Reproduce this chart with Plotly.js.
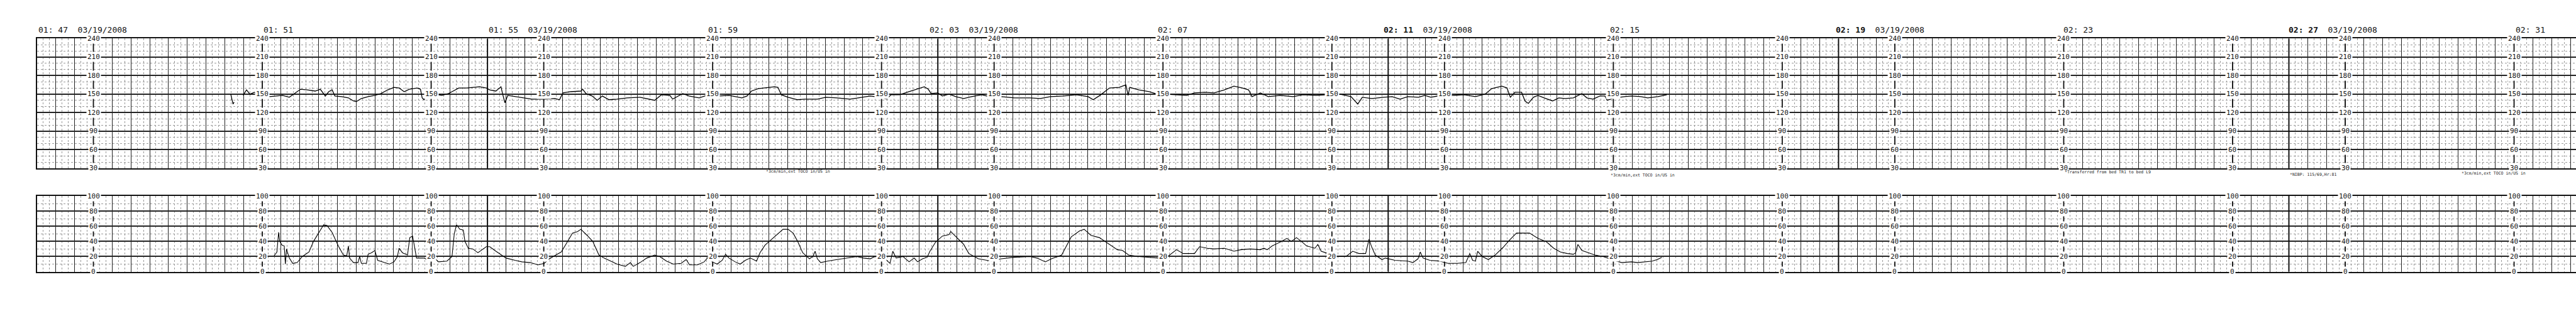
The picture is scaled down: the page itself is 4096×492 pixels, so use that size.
<!DOCTYPE html>
<html>
<head>
<meta charset="utf-8">
<script src="https://cdn.plot.ly/plotly-3.0.1.min.js"></script>
<style>html,body{margin:0;padding:0;background:#fff;}#chart{width:4096px;height:492px;}</style>
</head>
<body>
<div id="chart"></div>
<script>
// ---- data (x = minutes after 01:47) ----
const fhrMin = [3.44,3.46,3.48,3.50,3.58,
3.66,3.72,3.78,3.86,3.95,4.04,4.13,4.24,4.36,4.48,4.57,4.68,4.80,4.94,5.03,5.09,5.12,5.18,5.24,5.29,5.41,5.53,5.62,5.67,5.76,5.88,6.00,6.11,6.23,6.34,6.43,6.52,6.61,6.75,6.81,6.84,6.87,6.93,7.05,7.19,7.31,7.37,7.49,7.63,7.74,7.86,7.98,8.04,8.15,8.24,8.27,8.31,8.36,8.49,
8.61,8.79,9.01,9.20,9.28,9.34,9.48,9.66,9.69,9.75,9.86,9.95,10.04,10.16,10.30,10.48,10.71,10.88,10.97,11.09,11.24,11.29,11.47,11.58,11.76,11.93,12.11,12.29,12.52,12.61,12.69,12.81,12.99,13.10,13.16,13.22,13.34,13.51,13.63,13.86,14.01,14.21,14.44,14.68,14.80,14.97,15.09,15.17,15.32,15.49,15.67,15.76,15.83,
15.88,16.00,16.08,16.20,16.32,16.46,16.60,16.78,16.96,17.13,17.36,17.64,17.82,18.00,18.23,18.46,18.67,18.76,18.88,19.05,19.22,19.34,19.38,19.41,19.57,19.75,19.90,20.03,20.22,20.42,20.56,20.74,20.91,21.09,21.26,21.41,21.52,21.58,21.73,21.87,22.08,22.31,22.49,22.72,22.92,23.14,23.34,23.46,23.54,23.71,23.92,
24.07,24.21,24.35,24.54,24.65,24.76,24.94,25.17,25.35,25.55,25.72,25.84,26.02,26.11,26.17,26.25,26.37,26.43,26.49,26.58,26.66,26.80,26.92,27.03,27.14,27.29,27.44,27.53,27.64,27.76,27.85,27.89,28.02,28.20,28.32,28.49,28.61,28.79,28.95];
const fhrBpm = [150,140,134,137,null,
148,157,150,153,148,150,146,147,148,145,151,158,157,155,158,150,147,154,157,147,146,144,139,138,143,146,148,151,157,161,160,154,158,160,158,144,141,148,150,148,151,154,160,160,161,162,160,157,155,162,150,136,148,146,
144,142,142,143,141,152,154,155,158,151,147,140,147,141,142,144,145,142,140,149,148,142,151,147,144,149,147,148,144,147,155,159,161,162,161,149,145,141,142,142,145,144,142,145,147,145,142,149,149,154,159,162,158,
151,152,147,150,146,143,146,149,145,146,144,144,143,146,147,149,146,141,148,160,161,165,148,161,157,154,150,150,149,148,152,153,152,157,163,160,157,146,152,146,148,146,149,148,149,150,146,134,145,143,145,
146,142,146,145,148,145,148,148,149,146,150,159,163,160,145,153,153,139,135,145,148,143,139,144,143,144,151,144,142,147,147,140,144,146,147,146,144,146,149];

const tocoMin = [4.21,4.26,4.29,4.31,4.35,4.39,4.41,4.43,4.48,4.54,4.62,4.71,4.83,4.91,5.00,5.09,5.15,5.24,5.35,5.44,5.50,5.53,5.55,5.62,5.70,5.73,5.76,5.85,5.88,5.94,6.00,6.05,6.17,6.26,6.34,6.40,6.43,6.49,6.58,6.62,6.67,6.71,6.74,6.87,6.96,7.03,7.13,7.28,7.37,7.41,7.45,7.51,7.57,7.60,7.66,7.74,7.83,7.98,8.04,8.15,8.33,8.49,
8.61,8.76,8.90,9.01,9.08,9.19,9.31,9.40,9.51,9.60,9.66,9.77,9.87,9.98,10.07,10.19,10.30,10.45,10.54,10.59,10.71,10.83,10.97,11.06,11.18,11.30,11.44,11.53,11.59,11.73,11.85,11.93,11.99,12.08,12.17,12.23,12.29,12.40,12.49,12.58,12.67,12.78,12.84,12.93,13.04,13.16,13.25,13.34,13.43,13.51,13.60,13.72,13.78,13.82,13.86,13.92,14.04,14.21,14.39,14.56,14.68,14.80,14.88,14.97,15.06,15.15,15.20,15.26,15.38,15.49,15.58,15.64,15.73,15.81,
15.86,15.96,16.08,16.20,16.23,16.31,16.40,16.46,16.55,16.72,16.95,17.13,17.36,17.64,17.76,17.91,18.02,18.20,18.37,18.52,18.60,18.72,18.87,19.05,19.19,19.28,19.39,19.57,19.75,19.92,20.10,20.24,20.36,20.56,20.65,20.79,20.91,21.09,21.26,21.38,21.55,21.73,21.79,21.85,21.94,22.08,22.20,22.28,22.37,22.46,22.55,22.70,22.75,22.81,22.93,23.02,23.07,23.25,23.37,23.48,23.60,23.66,23.70,23.77,23.89,
23.95,24.12,24.35,24.44,24.53,24.57,24.62,24.74,24.91,25.06,25.23,25.38,25.45,25.50,25.55,25.59,25.67,25.78,25.90,26.04,26.16,26.28,26.40,26.51,26.66,26.80,26.85,26.94,27.06,27.18,27.29,27.33,27.37,27.44,27.56,27.67,27.82,27.96,28.05,28.15,28.32,28.43,28.54,28.69,28.78,28.86];
const tocoVal = [21,26,52,40,35,34,10,30,18,11,12,20,26,40,51,62,61,52,34,22,21,34,18,12,12,20,11,11,23,25,28,15,12,10,13,20,31,25,22,45,47,31,18,18,15,20,13,14,20,50,62,56,55,40,31,30,25,33,33,27,18,15,
13,12,9,11,16,21,26,37,51,53,56,48,40,22,18,14,10,7,12,7,12,18,22,20,14,10,11,16,9,9,13,20,13,10,15,23,18,13,10,15,18,14,25,35,42,50,56,56,51,40,25,17,20,27,17,12,14,16,18,20,18,17,20,20,17,11,27,18,20,13,18,13,17,19,
27,39,47,49,53,47,40,36,24,17,14,17,19,20,18,13,17,22,46,54,56,48,45,36,29,28,22,20,19,18,21,29,24,24,33,31,30,31,27,29,30,29,31,29,34,39,44,40,45,40,34,31,36,27,24,22,20,20,27,24,24,43,34,22,16,
18,15,14,12,17,26,18,15,14,11,11,12,24,15,14,27,20,16,22,32,42,51,51,51,44,40,37,31,26,24,23,25,36,28,25,22,20,16,14,12,13,12,13,14,16,19];

// repeated scale columns (minutes) and their labels
const labelCols = [1,4,7,9,12,15,17,20,23,25,28,31,33,36,39,41,44];
const fhrTicks = [240,210,180,150,120,90,60,30];
const tocoTicks = [100,80,60,40,20,0];
const pageBreaks = [8,16,24,32,40];

// time stamps along the top
const timeText = ['01:\u00a047\u00a0\u00a003/19/2008','01:\u00a051','01:\u00a055\u00a0\u00a003/19/2008','01:\u00a059',
  '02:\u00a003\u00a0\u00a003/19/2008','02:\u00a007','<b>02:\u00a011</b>\u00a0\u00a003/19/2008','02:\u00a015',
  '<b>02:\u00a019</b>\u00a0\u00a003/19/2008','02:\u00a023','<b>02:\u00a027</b>\u00a0\u00a003/19/2008','02:\u00a031'];
const timePos = [0,4.0,8.0,11.9,15.83,19.88,23.9,27.92,31.93,35.97,39.97,44.0];

// printed notes under the heart-rate panel
const noteText = ['*3cm/min,ext TOCO in/US in','*3cm/min,ext TOCO in/US in','*Transferred from bed TR1 to bed L9','*NIBP: 115/69,Hr:81','*3cm/min,ext TOCO in/US in'];
const notePos = [12.93,27.93,36.0,40.0,43.04];

// ---- build ----
const S = 0.8192;
const yPaper = r => 1 - (r*S)/492;   // reference pixel row -> paper y
const MONO = 'DejaVu Sans Mono, monospace';

function colLine(yA, yB){
  const xs=[], ys=[];
  labelCols.forEach(c=>{xs.push(c,c,null); ys.push(yA,yB,null);});
  return {xs, ys};
}
function breakLine(yA,yB){
  const xs=[], ys=[];
  pageBreaks.forEach(c=>{xs.push(c,c,null); ys.push(yA,yB,null);});
  return {xs, ys};
}
const c1 = colLine(30,240), c2 = colLine(0,100);
const b1 = breakLine(30,240), b2 = breakLine(0,100);

const traces = [
  {x:c1.xs, y:c1.ys, xaxis:'x', yaxis:'y', mode:'lines', line:{color:'#111', width:1.8}, hoverinfo:'skip'},
  {x:c2.xs, y:c2.ys, xaxis:'x', yaxis:'y2', mode:'lines', line:{color:'#111', width:1.8}, hoverinfo:'skip'},
  {x:b1.xs, y:b1.ys, xaxis:'x', yaxis:'y', mode:'lines', line:{color:'#111', width:2}, hoverinfo:'skip'},
  {x:b2.xs, y:b2.ys, xaxis:'x', yaxis:'y2', mode:'lines', line:{color:'#111', width:2}, hoverinfo:'skip'},
  {x:fhrMin, y:fhrBpm, xaxis:'x', yaxis:'y', mode:'lines', connectgaps:false, line:{color:'#000', width:1.3}},
  {x:tocoMin, y:tocoVal, xaxis:'x', yaxis:'y2', mode:'lines', line:{color:'#000', width:1.1}}
];

const annotations = [];
labelCols.forEach(c=>{
  fhrTicks.forEach(v=>annotations.push({x:c, y:v, xref:'x', yref:'y', text:String(v), showarrow:false,
    font:{family:MONO, size:11, color:'#111'}, bgcolor:'#fff', borderpad:1, xanchor:'center', yanchor:'middle'}));
  tocoTicks.forEach(v=>annotations.push({x:c, y:v, xref:'x', yref:'y2', text:String(v), showarrow:false,
    font:{family:MONO, size:11, color:'#111'}, bgcolor:'#fff', borderpad:1, xanchor:'center', yanchor:'middle'}));
});
timeText.forEach((t,i)=>annotations.push({x:timePos[i], y:yPaper(58), xref:'x', yref:'paper', text:t, showarrow:false,
  font:{family:MONO, size:13, color:'#111'}, xanchor:'left', yanchor:'middle'}));
const noteRows = [333,340,335,339,337];
noteText.forEach((t,i)=>annotations.push({x:notePos[i], y:yPaper(noteRows[i]), xref:'x', yref:'paper', text:t, showarrow:false,
  font:{family:MONO, size:6.5, color:'#222'}, xanchor:'left', yanchor:'middle'}));

const layout = {
  width:4096, height:492,
  margin:{l:0, r:0, t:0, b:0, pad:0},
  paper_bgcolor:'#fff', plot_bgcolor:'#fff',
  showlegend:false,
  xaxis:{domain:[59/4096,1], range:[0,45.10], anchor:'y2', tick0:0, dtick:1/3,
    showgrid:true, gridcolor:'#222', gridwidth:1, zeroline:false, showticklabels:false, ticks:'',
    showline:true, linecolor:'#111', linewidth:2, mirror:'all',
    minor:{dtick:1/9, tick0:0, showgrid:true, gridcolor:'#9a9a9a', gridwidth:1, griddash:'dot'}},
  yaxis:{domain:[1-327*S/492, 1-75*S/492], range:[30,240], anchor:'x', tick0:30, dtick:30,
    showgrid:true, gridcolor:'#222', gridwidth:2, zeroline:false, showticklabels:false, ticks:'',
    showline:true, linecolor:'#111', linewidth:2, mirror:'all',
    minor:{dtick:10, tick0:30, showgrid:true, gridcolor:'#9a9a9a', gridwidth:1, griddash:'dot'}},
  yaxis2:{domain:[1-528*S/492, 1-381*S/492], range:[0,100], anchor:'x', tick0:0, dtick:20,
    showgrid:true, gridcolor:'#222', gridwidth:2, zeroline:false, showticklabels:false, ticks:'',
    showline:true, linecolor:'#111', linewidth:2, mirror:'all',
    minor:{dtick:10, tick0:0, showgrid:true, gridcolor:'#9a9a9a', gridwidth:1, griddash:'dot'}},
  annotations: annotations
};

Plotly.newPlot('chart', traces, layout, {staticPlot:true, displayModeBar:false});
</script>
</body>
</html>
